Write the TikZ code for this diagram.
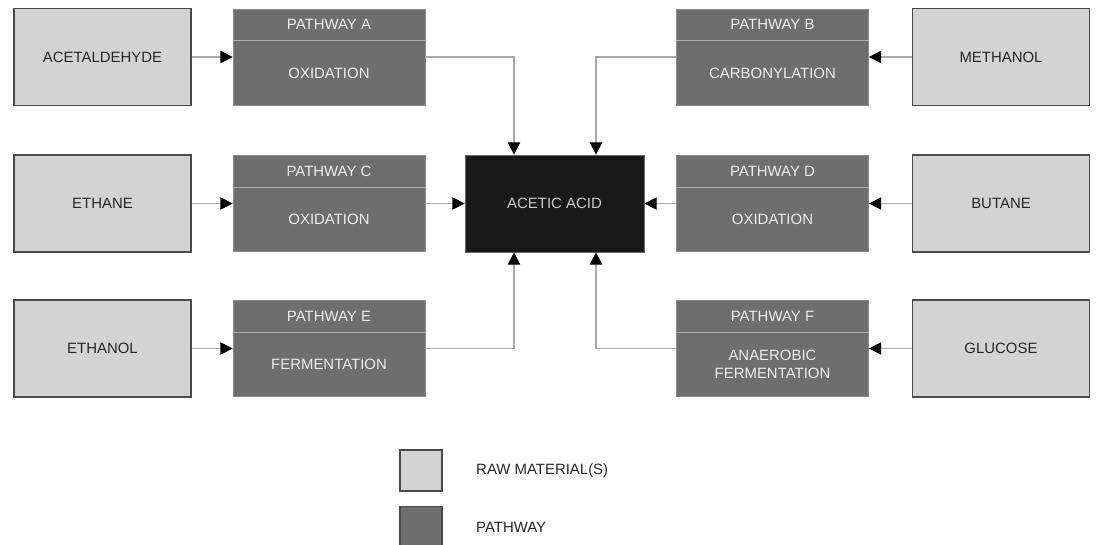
\documentclass[tikz,border=0pt]{standalone}
\usepackage{fontspec}
\setmainfont{Liberation Sans}
\usepackage{tikz}
\usetikzlibrary{calc, shapes, arrows.meta}
\definecolor{rawgray}{HTML}{D3D3D3}
\definecolor{rawline}{HTML}{4A4A4A}
\definecolor{pathgray}{HTML}{6E6E6E}
\definecolor{pathtext}{HTML}{EDEDED}
\definecolor{linkgray}{HTML}{A8A8A8}
\tikzstyle{raw} = [rectangle, draw=rawline, line width=0.8pt, fill=rawgray, minimum width=3.54cm, minimum height=1.94cm, font=\fontsize{8.5}{10}\selectfont, text=black!85]
\tikzstyle{pathway} = [rectangle, draw=pathgray!80!white, line width=0.4pt, fill=pathgray, minimum width=3.84cm, minimum height=1.92cm]
\tikzstyle{pathlabel} = [text=pathtext, font=\fontsize{8.5}{10.5}\selectfont, align=center]
\tikzstyle{product} = [rectangle, draw=black!60, fill=black!90, minimum width=3.58cm, minimum height=1.94cm, text=black!20, font=\fontsize{8.5}{10}\selectfont]
\tikzstyle{link} = [draw=linkgray, line width=0.6pt, -{Triangle[length=7pt, width=7pt, color=black]}]

\begin{document}
\begin{tikzpicture}
        \useasboundingbox (0, 0) rectangle (22.06, -10.88);

        % raw materials
        \node[raw] at (2.05, -1.14) (acetaldehyde) {ACETALDEHYDE};
        \node[raw] at (2.05, -4.07) (ethane) {ETHANE};
        \node[raw] at (2.05, -6.97) (ethanol) {ETHANOL};
        \node[raw] at (20.02, -1.14) (methanol) {METHANOL};
        \node[raw] at (20.02, -4.07) (butane) {BUTANE};
        \node[raw] at (20.02, -6.97) (glucose) {GLUCOSE};

        % pathways
        \node[pathway] at (6.58, -1.14) (pathwayA) {};
        \node[pathway] at (6.58, -4.07) (pathwayC) {};
        \node[pathway] at (6.58, -6.97) (pathwayE) {};
        \node[pathway] at (15.45, -1.14) (pathwayB) {};
        \node[pathway] at (15.45, -4.07) (pathwayD) {};
        \node[pathway] at (15.45, -6.97) (pathwayF) {};
        \foreach \p in {pathwayA, pathwayB, pathwayC, pathwayD, pathwayE, pathwayF}
            \draw[pathgray!55!white, line width=0.6pt] ($(\p.north west)+(0, -0.64)$) -- ($(\p.north east)+(0, -0.64)$);

        \node[pathlabel] at ($(pathwayA.north)+(0, -0.32)$) (headA) {PATHWAY A};
        \node[pathlabel] at ($(pathwayB.north)+(0, -0.32)$) (headB) {PATHWAY B};
        \node[pathlabel] at ($(pathwayC.north)+(0, -0.32)$) (headC) {PATHWAY C};
        \node[pathlabel] at ($(pathwayD.north)+(0, -0.32)$) (headD) {PATHWAY D};
        \node[pathlabel] at ($(pathwayE.north)+(0, -0.32)$) (headE) {PATHWAY E};
        \node[pathlabel] at ($(pathwayF.north)+(0, -0.32)$) (headF) {PATHWAY F};
        \node[pathlabel] at ($(pathwayA.center)+(0, -0.32)$) (bodyA) {OXIDATION};
        \node[pathlabel] at ($(pathwayB.center)+(0, -0.32)$) (bodyB) {CARBONYLATION};
        \node[pathlabel] at ($(pathwayC.center)+(0, -0.32)$) (bodyC) {OXIDATION};
        \node[pathlabel] at ($(pathwayD.center)+(0, -0.32)$) (bodyD) {OXIDATION};
        \node[pathlabel] at ($(pathwayE.center)+(0, -0.32)$) (bodyE) {FERMENTATION};
        \node[pathlabel] at ($(pathwayF.center)+(0, -0.32)$) (bodyF) {ANAEROBIC\\FERMENTATION};

        % product
        \node[product] at (11.09, -4.07) (acetic) {ACETIC ACID};

        % raw -> pathway
        \draw[link] (acetaldehyde) -- (pathwayA);
        \draw[link] (ethane) -- (pathwayC);
        \draw[link] (ethanol) -- (pathwayE);
        \draw[link] (methanol) -- (pathwayB);
        \draw[link] (butane) -- (pathwayD);
        \draw[link] (glucose) -- (pathwayF);

        % pathway -> acetic acid
        \draw[link] (pathwayC) -- (acetic);
        \draw[link] (pathwayD) -- (acetic);
        \draw[link] (pathwayA) -| ($(acetic.north)+(-0.81, 0)$);
        \draw[link] (pathwayB) -| ($(acetic.north)+(0.83, 0)$);
        \draw[link] (pathwayE) -| ($(acetic.south)+(-0.81, 0)$);
        \draw[link] (pathwayF) -| ($(acetic.south)+(0.83, 0)$);

        % legend
        \node[raw, minimum width=0.84cm, minimum height=0.82cm] at (8.42, -9.41) (keyRaw) {};
        \node[raw, fill=pathgray, minimum width=0.84cm, minimum height=0.84cm] at (8.42, -10.55) (keyPath) {};
        \node[anchor=west, font=\fontsize{8.5}{10}\selectfont, text=black!85] at (9.4, -9.41) (keyRawText) {RAW MATERIAL(S)};
        \node[anchor=west, font=\fontsize{8.5}{10}\selectfont, text=black!85] at (9.4, -10.55) (keyPathText) {PATHWAY};

    \end{tikzpicture}
\end{document}
